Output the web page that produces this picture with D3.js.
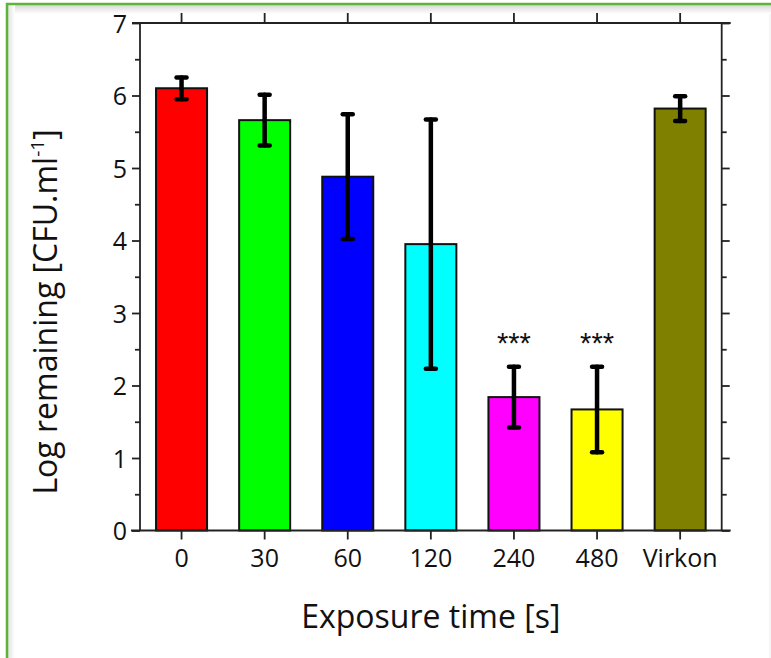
<!DOCTYPE html>
<html>
<head>
<meta charset="utf-8">
<script src="https://cdn.jsdelivr.net/npm/d3@7"></script>
<style>
  body { margin: 0; background: #fff; }
  svg { display: block; }
</style>
</head>
<body>
<div id="chart"></div>
<script>

// values (log CFU/ml, mean and +/- error)
var categories = ["0", "30", "60", "120", "240", "480", "Virkon"];
var means = [6.10, 5.66, 4.88, 3.95, 1.84, 1.67, 5.82];
var errs = [0.15, 0.35, 0.86, 1.72, 0.42, 0.59, 0.17];
var signif = ["", "", "", "", "***", "***", ""];
var yTicks = [0, 1, 2, 3, 4, 5, 6, 7];
var yMinorTicks = [0.5, 1.5, 2.5, 3.5, 4.5, 5.5, 6.5];

var barColors = ["#ff0000", "#00ff00", "#0000ff", "#00ffff", "#ff00ff", "#ffff00", "#808000"];

var width = 771, height = 658;
var plotLeft = 140, plotRight = 721.7, plotTop = 23, plotBottom = 530.5;
var axisColor = "#222";
var font = "'Open Sans', sans-serif";

var svg = d3.select("#chart").append("svg")
	.attr("width", width)
	.attr("height", height);

// frame of the screenshot (green border + soft shadow)
var defs = svg.append("defs");
var gTop = defs.append("linearGradient").attr("id", "shTop").attr("x1", 0).attr("y1", 0).attr("x2", 0).attr("y2", 1);
gTop.append("stop").attr("offset", 0).attr("stop-color", "#d8d8d8");
gTop.append("stop").attr("offset", 1).attr("stop-color", "#fff");
var gLeft = defs.append("linearGradient").attr("id", "shLeft").attr("x1", 0).attr("y1", 0).attr("x2", 1).attr("y2", 0);
gLeft.append("stop").attr("offset", 0).attr("stop-color", "#e2e2e2");
gLeft.append("stop").attr("offset", 1).attr("stop-color", "#fff");

svg.append("rect").attr("x", 8).attr("y", 5).attr("width", width - 8).attr("height", 9).attr("fill", "url(#shTop)");
svg.append("rect").attr("x", 8).attr("y", 5).attr("width", 7).attr("height", height - 5).attr("fill", "url(#shLeft)");
svg.append("line").attr("x1", 6).attr("y1", 4).attr("x2", width).attr("y2", 4)
	.attr("stroke", "#5cb53a").attr("stroke-width", 2.5);
svg.append("line").attr("x1", 7).attr("y1", 3).attr("x2", 7).attr("y2", height)
	.attr("stroke", "#5cb53a").attr("stroke-width", 2.5);
svg.append("line").attr("x1", 770).attr("y1", 14).attr("x2", 770).attr("y2", height)
	.attr("stroke", "#ebebeb").attr("stroke-width", 1);

// scales
var x = d3.scaleBand()
	.domain(categories)
	.range([plotLeft, plotRight])
	.paddingInner(0.386)
	.paddingOuter(0.193);

var y = d3.scaleLinear()
	.domain([0, 7])
	.range([plotBottom, plotTop]);

var data = categories.map(function(c, i){
	return {cat: c, mean: means[i], err: errs[i], color: barColors[i], sig: signif[i]};
});

// bars
svg.append("g").selectAll("rect")
	.data(data)
	.enter().append("rect")
	.attr("x", function(d){ return x(d.cat); })
	.attr("y", function(d){ return y(d.mean); })
	.attr("width", x.bandwidth())
	.attr("height", function(d){ return y(0) - y(d.mean); })
	.attr("fill", function(d){ return d.color; })
	.attr("stroke", "#111")
	.attr("stroke-width", 2);

// error bars
var eb = svg.append("g")
	.attr("stroke", "#000")
	.attr("stroke-linecap", "round");
var cx = function(d){ return x(d.cat) + x.bandwidth()/2; };
var capHalf = 5;

eb.selectAll(".stem").data(data).enter().append("line")
	.attr("class", "stem")
	.attr("x1", cx).attr("x2", cx)
	.attr("y1", function(d){ return y(d.mean + d.err); })
	.attr("y2", function(d){ return y(d.mean - d.err); })
	.attr("stroke-width", 4.5);
eb.selectAll(".capTop").data(data).enter().append("line")
	.attr("class", "capTop")
	.attr("x1", function(d){ return cx(d) - capHalf; })
	.attr("x2", function(d){ return cx(d) + capHalf; })
	.attr("y1", function(d){ return y(d.mean + d.err); })
	.attr("y2", function(d){ return y(d.mean + d.err); })
	.attr("stroke-width", 4.5);
eb.selectAll(".capBot").data(data).enter().append("line")
	.attr("class", "capBot")
	.attr("x1", function(d){ return cx(d) - capHalf; })
	.attr("x2", function(d){ return cx(d) + capHalf; })
	.attr("y1", function(d){ return y(d.mean - d.err); })
	.attr("y2", function(d){ return y(d.mean - d.err); })
	.attr("stroke-width", 4.5);

// significance stars
svg.append("g").selectAll("text")
	.data(data.filter(function(d){ return d.sig !== ""; }))
	.enter().append("text")
	.attr("x", cx)
	.attr("y", function(d){ return y(d.mean + d.err) - 14; })
	.attr("text-anchor", "middle")
	.attr("font-family", "'Liberation Sans', sans-serif")
	.attr("font-size", 29)
	.attr("fill", "#111")
	.text(function(d){ return d.sig; });

// axes
var axisStyle = function(g){
	g.select(".domain").remove();
	g.selectAll(".tick line").attr("stroke", axisColor).attr("stroke-width", 1.8);
	g.selectAll(".tick text").attr("fill", "#111").attr("font-family", font);
};

// left: major with labels + minor
svg.append("g")
	.attr("transform", "translate(" + plotLeft + ",0)")
	.call(d3.axisLeft(y).tickValues(yTicks).tickSize(8).tickPadding(5).tickFormat(d3.format("d")))
	.call(axisStyle)
	.call(function(g){ g.selectAll(".tick text").attr("font-size", 25).attr("dy", "0.36em"); });
svg.append("g")
	.attr("transform", "translate(" + plotLeft + ",0)")
	.call(d3.axisLeft(y).tickValues(yMinorTicks).tickSize(5).tickFormat(""))
	.call(axisStyle);

// right: ticks only
svg.append("g")
	.attr("transform", "translate(" + plotRight + ",0)")
	.call(d3.axisRight(y).tickValues(yTicks).tickSize(8).tickFormat(""))
	.call(axisStyle);
svg.append("g")
	.attr("transform", "translate(" + plotRight + ",0)")
	.call(d3.axisRight(y).tickValues(yMinorTicks).tickSize(5).tickFormat(""))
	.call(axisStyle);

// bottom with category labels
svg.append("g")
	.attr("transform", "translate(0," + plotBottom + ")")
	.call(d3.axisBottom(x).tickSize(9).tickPadding(10))
	.call(axisStyle)
	.call(function(g){ g.selectAll(".tick text").attr("font-size", 25); });

// top ticks
svg.append("g")
	.attr("transform", "translate(0," + plotTop + ")")
	.call(d3.axisTop(x).tickSize(10).tickFormat(""))
	.call(axisStyle);

// frame lines (horizontal ones run a bit past the sides)
var frame = svg.append("g").attr("stroke", axisColor).attr("stroke-width", 1.8);
frame.append("line").attr("x1", plotLeft - 9).attr("x2", plotRight + 9).attr("y1", plotBottom).attr("y2", plotBottom);
frame.append("line").attr("x1", plotLeft - 8).attr("x2", plotRight + 9).attr("y1", plotTop).attr("y2", plotTop);
frame.append("line").attr("x1", plotLeft).attr("x2", plotLeft).attr("y1", plotTop).attr("y2", plotBottom);
frame.append("line").attr("x1", plotRight).attr("x2", plotRight).attr("y1", plotTop).attr("y2", plotBottom);

// axis titles
svg.append("text")
	.attr("x", (plotLeft + plotRight)/2)
	.attr("y", 628)
	.attr("text-anchor", "middle")
	.attr("font-family", font)
	.attr("font-size", 32)
	.attr("fill", "#111")
	.text("Exposure time [s]");

var yt = svg.append("text")
	.attr("transform", "translate(57,312) rotate(-90)")
	.attr("text-anchor", "middle")
	.attr("font-family", font)
	.attr("font-size", 32)
	.attr("fill", "#111");
yt.append("tspan").text("Log remaining [CFU.ml");
yt.append("tspan").attr("font-size", 19).attr("dy", -13).text("-1");
yt.append("tspan").attr("dy", 13).text("]");

</script>
</body>
</html>
